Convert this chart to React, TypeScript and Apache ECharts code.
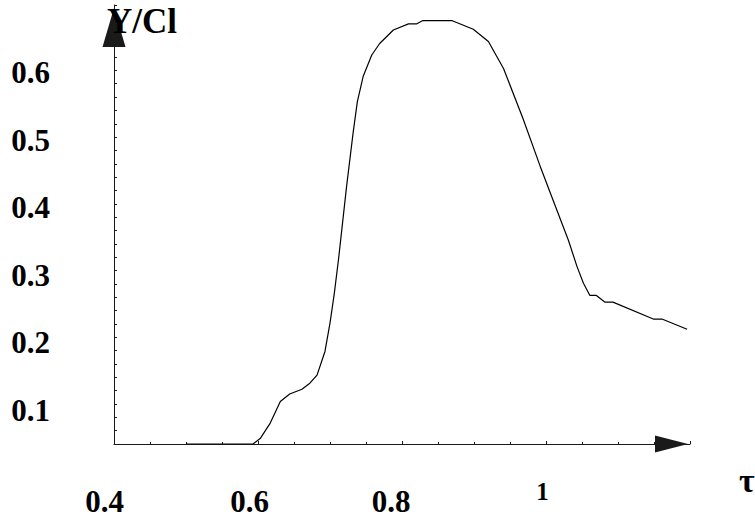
import React, { useEffect, useRef } from "react";
import * as echarts from "echarts";

// ---- data ----
const tau: number[] = [
  0.5, 0.593, 0.603, 0.617, 0.631, 0.644, 0.661, 0.672, 0.682, 0.693, 0.7,
  0.706, 0.712, 0.723, 0.732, 0.738, 0.746, 0.758, 0.769, 0.788, 0.809, 0.82,
  0.829, 0.869, 0.899, 0.92, 0.941, 0.968, 0.992, 1.008, 1.031, 1.043, 1.052,
  1.061, 1.07, 1.082, 1.093, 1.149, 1.161, 1.196,
];
const yCl: number[] = [
  0.05, 0.05, 0.058, 0.081, 0.113, 0.124, 0.131, 0.14, 0.152, 0.187, 0.229,
  0.273, 0.325, 0.431, 0.51, 0.557, 0.594, 0.626, 0.643, 0.663, 0.672, 0.672,
  0.677, 0.677, 0.664, 0.646, 0.606, 0.532, 0.461, 0.416, 0.352, 0.313, 0.288,
  0.27, 0.27, 0.26, 0.26, 0.235, 0.235, 0.22,
];
const xTickValues: number[] = [0.4, 0.6, 0.8, 1.0];
const xTickLabels: string[] = ["0.4", "0.6", "0.8", "1"];
const yTickLabels: string[] = ["0.1", "0.2", "0.3", "0.4", "0.5", "0.6"];
const xName = "τ";
const yName = "Y/Cl";

const FONT = '"Liberation Serif", "Times New Roman", serif';
const AXIS_COLOR = "#1a1a1a";

export default function App() {
  const ref = useRef<HTMLDivElement>(null);

  useEffect(() => {
    if (!ref.current) return;
    const chart = echarts.init(ref.current, undefined, { renderer: "svg" });
    const richKeys = ["a", "b", "c", "d"];
    const option: echarts.EChartsOption = {
      animation: false,
      backgroundColor: "#ffffff",
      grid: { left: 114, right: 65, top: 5, bottom: 76, containLabel: false },
      xAxis: {
        type: "value",
        min: 0.4,
        max: 1.2,
        interval: 0.2,
        splitLine: { show: false },
        axisLine: {
          show: true,
          lineStyle: { color: AXIS_COLOR, width: 1 },
          symbol: ["none", "triangle"],
          symbolSize: [17, 33],
          symbolOffset: [0, -18.5],
        },
        axisTick: { show: true, inside: true, length: 3, lineStyle: { color: AXIS_COLOR } },
        minorTick: { show: true, splitNumber: 4, length: 2, lineStyle: { color: AXIS_COLOR } },
        axisLabel: {
          margin: 42,
          showMaxLabel: false,
          formatter: (v: number) => {
            const i = xTickValues.findIndex((t) => Math.abs(t - v) < 1e-6);
            if (i < 0) return "";
            return `{${richKeys[i]}|${xTickLabels[i]}}`;
          },
          rich: {
            a: { fontFamily: FONT, fontWeight: "bold", fontSize: 31, lineHeight: 31, color: "#000", padding: [0, 19, 0, 0] },
            b: { fontFamily: FONT, fontWeight: "bold", fontSize: 31, lineHeight: 31, color: "#000", padding: [0, 17, 0, 0] },
            c: { fontFamily: FONT, fontWeight: "bold", fontSize: 31, lineHeight: 31, color: "#000", padding: [0, 22, 0, 0] },
            d: { fontFamily: FONT, fontWeight: "bold", fontSize: 25, lineHeight: 10, color: "#000", padding: [0, 7, 0, 0] },
          },
        },
      },
      yAxis: [
        {
          type: "value",
          position: "left",
          min: 0.05,
          max: 0.7,
          interval: 0.05,
          splitLine: { show: false },
          axisLine: {
            show: true,
            lineStyle: { color: AXIS_COLOR, width: 1 },
            symbol: ["none", "triangle"],
            symbolSize: [23, 39],
            symbolOffset: [0, -22.5],
          },
          axisTick: { show: false },
          axisLabel: {
            margin: 64,
            fontFamily: FONT,
            fontWeight: "bold",
            fontSize: 31,
            color: "#000",
            formatter: (v: number) => {
              const s = v.toFixed(1);
              const hundred = Math.round(v * 100);
              if (hundred % 10 !== 0) return "";
              return yTickLabels.includes(s) ? s : "";
            },
          },
        },
        {
          type: "value",
          position: "left",
          min: 0.05,
          max: 0.708,
          interval: 0.02,
          splitLine: { show: false },
          axisLine: { show: false },
          axisLabel: { show: false },
          axisTick: { show: true, inside: true, length: 3, lineStyle: { color: AXIS_COLOR } },
        },
      ],
      graphic: [
        {
          type: "text",
          x: 107,
          y: 21.5,
          z: 100,
          style: {
            text: yName,
            fill: "#000",
            font: `bold 35px ${FONT}`,
            textAlign: "left",
            textVerticalAlign: "middle",
          },
        },
        {
          type: "text",
          x: 739,
          y: 480.5,
          style: {
            text: xName,
            fill: "#000",
            font: `bold 34px ${FONT}`,
            textAlign: "left",
            textVerticalAlign: "middle",
          },
        },
      ],
      series: [
        {
          type: "line",
          yAxisIndex: 0,
          data: tau.map((t, i) => [t, yCl[i]]),
          showSymbol: false,
          symbol: "none",
          smooth: false,
          lineStyle: { color: "#000", width: 1.2 },
          z: 3,
        },
      ],
    };
    chart.setOption(option);
    return () => chart.dispose();
  }, []);

  return (
    <div
      ref={ref}
      style={{ position: "fixed", left: 0, top: 0, width: 755, height: 520, background: "#fff" }}
    />
  );
}
